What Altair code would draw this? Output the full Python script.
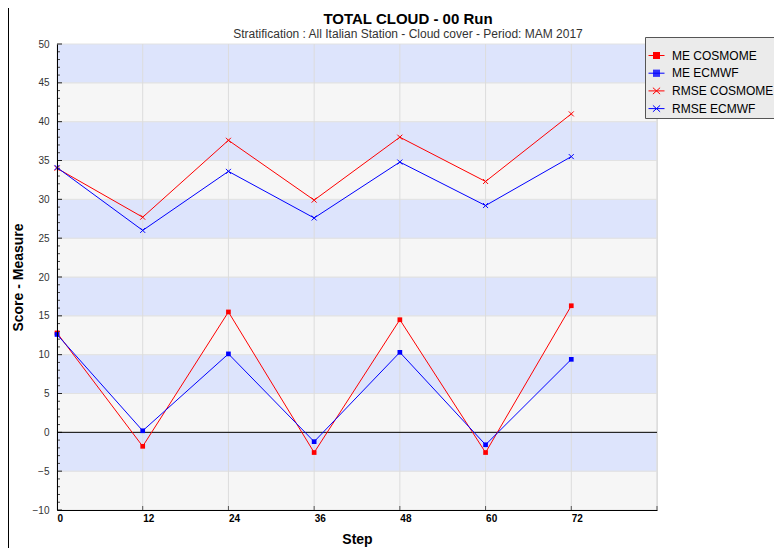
import altair as alt
import pandas as pd

# ---------------- data ----------------
steps = [0, 12, 24, 36, 48, 60, 72]
me_cosmome = [12.8, -1.8, 15.5, -2.6, 14.5, -2.6, 16.3]
me_ecmwf = [12.6, 0.2, 10.1, -1.2, 10.3, -1.6, 9.4]
rmse_cosmome = [34.0, 27.7, 37.6, 29.9, 38.0, 32.3, 41.0]
rmse_ecmwf = [34.1, 26.0, 33.6, 27.6, 34.8, 29.2, 35.5]

series_names = ["ME COSMOME", "ME ECMWF", "RMSE COSMOME", "RMSE ECMWF"]
series_values = [me_cosmome, me_ecmwf, rmse_cosmome, rmse_ecmwf]
series_colors = ["#ff0000", "#0000ff", "#ff0000", "#0000ff"]

x_tick_values = [0, 12, 24, 36, 48, 60, 72]
x_grid_values = [12, 24, 36, 48, 60, 72, 84]
y_major = list(range(-10, 51, 5))
y_minor = [v for v in range(-10, 51) if v % 5 != 0]
band_lo = list(range(-10, 50, 5))
band_hi = [v + 5 for v in band_lo]
band_kind = ["gray" if i % 2 == 0 else "blue" for i in range(len(band_lo))]

rows = []
for name, vals in zip(series_names, series_values):
    for s, v in zip(steps, vals):
        rows.append({"series": name, "step": s, "value": v})
df = pd.DataFrame(rows)
bands = pd.DataFrame({"lo": band_lo, "hi": band_hi, "kind": band_kind})
xgrid = pd.DataFrame({"step": x_grid_values})
ymaj = pd.DataFrame({"value": y_major})
ymin = pd.DataFrame({"value": y_minor})
zero = pd.DataFrame({"value": [0]})

FONT = "Liberation Sans"
W, H = 600, 466

xs = alt.Scale(domain=[0, 84], nice=False, zero=False)
ys = alt.Scale(domain=[-10, 50], nice=False, zero=False)

x_axis = alt.Axis(values=x_tick_values, title="Step", grid=False, tickSize=0,
                  labelAlign="left", labelPadding=3, labelFont=FONT, labelFontSize=10,
                  labelFontWeight="bold", labelColor="#000000", domainColor="#000000",
                  titleFont=FONT, titleFontSize=14, titleFontWeight="bold", titleColor="#000000",
                  titleY=22, zindex=1)
y_axis = alt.Axis(values=y_major, title="Score - Measure", grid=False, tickSize=0,
                  labelPadding=8, labelFont=FONT, labelFontSize=10, labelColor="#333333",
                  domainColor="#000000", titleFont=FONT, titleFontSize=14, titleFontWeight="bold",
                  titleColor="#000000", titleX=-32, titleY=H / 2, zindex=1)


def X(field):
    return alt.X(field, type="quantitative", scale=xs, axis=x_axis)


def Y(field):
    return alt.Y(field, type="quantitative", scale=ys, axis=y_axis)


layers = []

# background bands
layers.append(
    alt.Chart(bands).mark_rect(stroke="#e2e2e2", strokeWidth=1).encode(
        y=Y("lo"), y2="hi",
        x=alt.value(0), x2=alt.value(W),
        fill=alt.Fill("kind:N", scale=alt.Scale(domain=["gray", "blue"],
                                                range=["#f6f6f6", "#dde4fc"]), legend=None),
    )
)
# vertical grid lines
layers.append(
    alt.Chart(xgrid).mark_rule(color="#dcdcdc", strokeWidth=1).encode(
        x=X("step"), y=alt.value(0), y2=alt.value(H))
)
# x ticks (inside)
layers.append(
    alt.Chart(xgrid).mark_rule(color="#555555", strokeWidth=1).encode(
        x=X("step"), y=alt.value(H), y2=alt.value(H - 4))
)
# y ticks (inside)
layers.append(
    alt.Chart(ymaj).mark_rule(color="#222222", strokeWidth=1).encode(
        y=Y("value"), x=alt.value(0), x2=alt.value(5))
)
layers.append(
    alt.Chart(ymin).mark_rule(color="#444444", strokeWidth=1).encode(
        y=Y("value"), x=alt.value(0), x2=alt.value(3))
)
# zero line
layers.append(
    alt.Chart(zero).mark_rule(color="#000000", strokeWidth=1).encode(
        y=Y("value"), x=alt.value(0), x2=alt.value(W))
)
# left frame line
layers.append(
    alt.Chart(zero).mark_rule(color="#000000", strokeWidth=1).encode(
        x=alt.value(-48.5), y=alt.value(-36), y2=alt.value(H + 38))
)

sq_path = "M-1,0H1" + "".join(
    "M-0.4375,%sH0.4375" % (k / 8) for k in range(-3, 4))
xl_path = "M-1,0H1M-0.45,-0.4L0.45,0.4M-0.45,0.4L0.45,-0.4"
x_path = "M-1,-1L1,1M-1,1L1,-1"

for name, color in zip(series_names, series_colors):
    base = alt.Chart(df).transform_filter(alt.datum.series == name)
    layers.append(base.mark_line(color=color, strokeWidth=1).encode(x=X("step"), y=Y("value")))
    if name.startswith("ME"):
        layers.append(base.mark_square(color=color, size=22, filled=True, opacity=1).encode(
            x=X("step"), y=Y("value")))
    else:
        layers.append(base.mark_point(color=color, shape=x_path, size=25, filled=False,
                                      strokeWidth=1, opacity=1).encode(x=X("step"), y=Y("value")))

legend_props = dict(
    orient="none", legendX=588, legendY=-7, fillColor="#ebebeb", strokeColor="#555555",
    padding=3, title=" ", titleFontSize=7, titlePadding=0, labelFont=FONT, labelFontSize=12,
    labelColor="#000000", symbolSize=256, symbolStrokeWidth=1, rowPadding=2.7, labelOffset=7,
    symbolOpacity=1, labelExpr="datum.label + '          '", labelLimit=300,
)
layers.append(
    alt.Chart(df).transform_filter("false").mark_point(filled=False, opacity=1, strokeWidth=1).encode(
        x=X("step"), y=Y("value"),
        color=alt.Color("series:N", scale=alt.Scale(domain=series_names, range=series_colors),
                        legend=alt.Legend(**legend_props)),
        shape=alt.Shape("series:N", scale=alt.Scale(domain=series_names,
                                                    range=[sq_path, sq_path, xl_path, xl_path]),
                        legend=alt.Legend(**legend_props)),
    )
)

chart = alt.layer(*layers).properties(
    width=W, height=H,
    autosize=alt.AutoSizeParams(type="none"),
    padding={"left": 49, "top": 36, "right": 117, "bottom": 38},
    title=alt.TitleParams(
        text="TOTAL CLOUD - 00 Run",
        subtitle="Stratification : All Italian Station - Cloud cover - Period: MAM 2017",
        font=FONT, fontSize=15, fontWeight="bold", color="#000000",
        subtitleFont=FONT, subtitleFontSize=12, subtitleColor="#333333",
        anchor="middle", frame="group", dx=51, offset=-32, subtitlePadding=2,
    ),
).configure_view(stroke=None).configure(background="white")

chart.save("out.html", embed_options={"renderer": "svg", "actions": False})
